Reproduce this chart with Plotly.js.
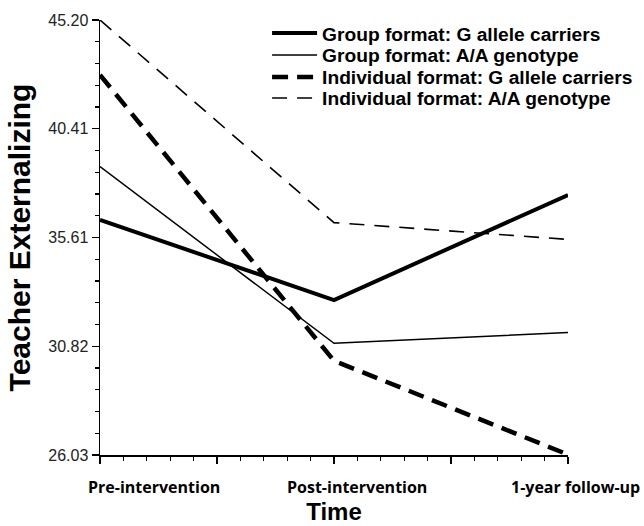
<!DOCTYPE html>
<html>
<head>
<meta charset="utf-8">
<script src="https://cdn.plot.ly/plotly-3.0.1.min.js"></script>
<style>html,body{margin:0;padding:0;background:#fff;}#chart{width:644px;height:526px;}</style>
</head>
<body>
<div id="chart"></div>
<script>
// Data
const timePoints = [0, 1, 2];
const timeLabels = ['Pre-intervention', 'Post-intervention', '1-year follow-up'];
const labelPositions = [0.23, 1.10, 2.03];
const groupG = [36.39, 32.86, 37.49];
const groupAA = [38.74, 30.95, 31.43];
const indivG = [42.78, 30.18, 26.05];
const indivAA = [45.20, 36.27, 35.53];
const yTickVals = [26.03, 30.82, 35.61, 40.41, 45.20];
const yTickText = ['26.03', '30.82', '35.61', '40.41', '45.20'];
const seriesNames = ['Group format: G allele carriers', 'Group format: A/A genotype',
  'Individual format: G allele carriers', 'Individual format: A/A genotype'];

const xRange = [0, 2];
const legendIds = ['legend', 'legend2', 'legend3', 'legend4'];

const traces = [
  {x: timePoints, y: groupG, name: seriesNames[0], legend: legendIds[0], mode: 'lines', line: {color: '#000', width: 4}},
  {x: timePoints, y: groupAA, name: seriesNames[1], legend: legendIds[1], mode: 'lines', line: {color: '#000', width: 1.5}},
  {x: timePoints, y: indivG, name: seriesNames[2], legend: legendIds[2], mode: 'lines', line: {color: '#000', width: 4.5, dash: '16px,9px'}},
  {x: timePoints, y: indivAA, name: seriesNames[3], legend: legendIds[3], mode: 'lines', line: {color: '#000', width: 1.6, dash: '15px,10px'}}
];

const xLabelAnnotations = timeLabels.map((t, i) => ({
  text: t, x: (labelPositions[i] - xRange[0]) / (xRange[1] - xRange[0]), xref: 'paper', y: -0.0736, yref: 'paper',
  xanchor: 'center', yanchor: 'middle', showarrow: false,
  font: {family: 'Open Sans, Liberation Sans, sans-serif', size: 16, color: '#000', weight: 'bold'}
}));

function legendBox(rowY) {
  return {
    x: 0.357, y: rowY, xanchor: 'left', yanchor: 'middle',
    font: {family: 'Liberation Sans, Arial, sans-serif', size: 19.2, color: '#000', weight: 'bold'},
    bgcolor: 'rgba(255,255,255,0)', itemwidth: 45
  };
}

const layout = {
  width: 644, height: 526,
  margin: {l: 100, r: 76, t: 20, b: 71, autoexpand: false},
  paper_bgcolor: '#fff', plot_bgcolor: '#fff',
  showlegend: true,
  legend: legendBox(0.970),
  legend2: legendBox(0.9195),
  legend3: legendBox(0.869),
  legend4: legendBox(0.8207),
  annotations: xLabelAnnotations,
  xaxis: {
    range: xRange, showgrid: false, zeroline: false,
    showline: true, linecolor: '#000', linewidth: 1.5,
    tickmode: 'array', tickvals: [0, 0.5, 1, 1.5, 2], ticktext: ['', '', '', '', ''],
    ticks: 'outside', ticklen: 7, tickwidth: 1.5, tickcolor: '#000',
    minor: {tick0: 0, dtick: 0.1, ticks: 'outside', ticklen: 4, tickwidth: 1.2, tickcolor: '#000'},
    title: {text: 'Time', font: {family: 'Liberation Sans, Arial, sans-serif', size: 24, color: '#000', weight: 'bold'}, standoff: 38}
  },
  yaxis: {
    range: [26.03, 45.20], showgrid: false, zeroline: false,
    showline: true, linecolor: '#000', linewidth: 1.5,
    tickmode: 'array', tickvals: yTickVals, ticktext: yTickText,
    ticks: 'outside', ticklen: 7, tickwidth: 1.5, tickcolor: '#000',
    minor: {tick0: 26.03, dtick: 0.9585, ticks: 'outside', ticklen: 4, tickwidth: 1.2, tickcolor: '#000'},
    tickfont: {family: 'Liberation Sans, Arial, sans-serif', size: 16, color: '#222'},
    title: {text: 'Teacher Externalizing', font: {family: 'Liberation Sans, Arial, sans-serif', size: 30, color: '#000', weight: 'bold'}, standoff: 9}
  }
};

Plotly.newPlot('chart', traces, layout, {displayModeBar: false, staticPlot: true});
</script>
</body>
</html>
